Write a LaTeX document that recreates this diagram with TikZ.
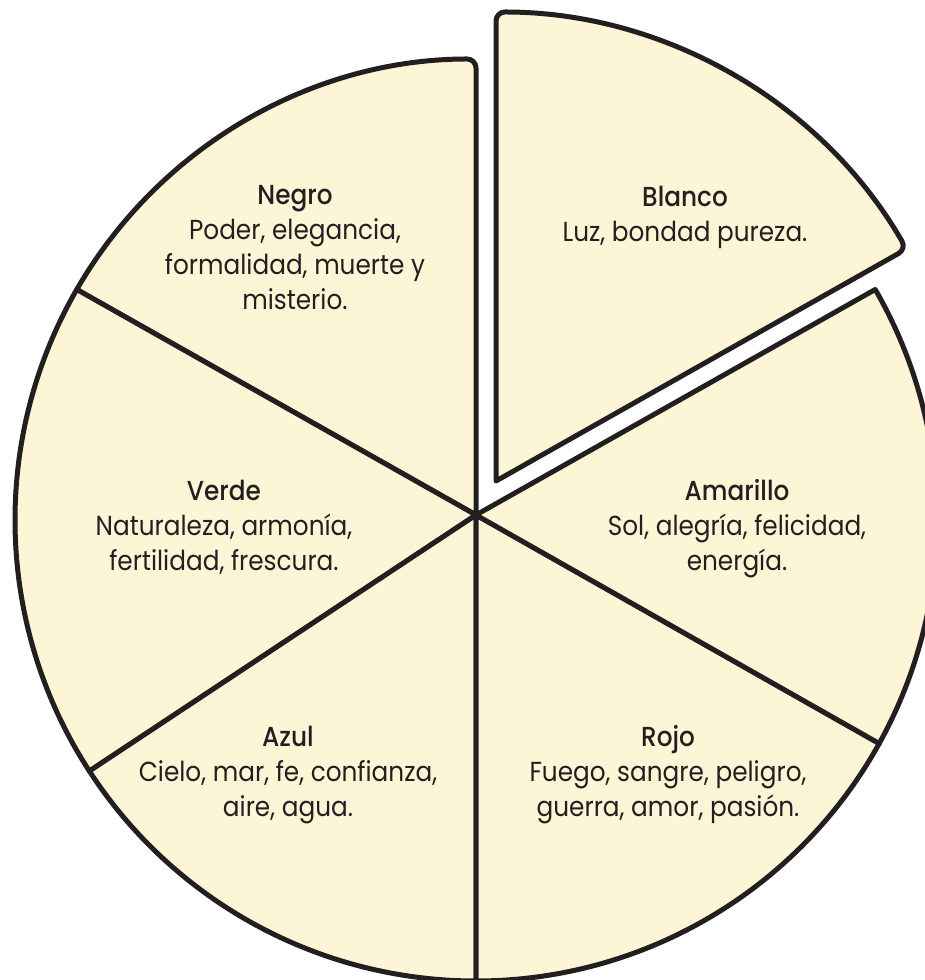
\documentclass[tikz,border=0pt]{standalone}
\usepackage{fontspec}
\setmainfont{Poppins}[BoldFont={Poppins Medium}, FakeStretch=0.9]
\usetikzlibrary{calc}
\definecolor{pieFill}{RGB}{253,246,214}
\definecolor{pieInk}{RGB}{35,31,32}
\begin{document}
\begin{tikzpicture}[x=1pt, y=1pt,
    pieSlice/.style={draw=pieInk, fill=pieFill, line width=5pt, line join=round},
    pieLabel/.style={align=center, text=pieInk, font=\fontsize{27.5}{35}\selectfont, anchor=base, inner sep=0pt}]
    \useasboundingbox (0,0) rectangle (925,980);
    \clip (0,0) rectangle (925,980);
    \def\pieR{461}
    \def\blancoR{474}
    \coordinate (center) at (476, 460);
    \coordinate (apex) at (476, 465);
    \coordinate (bcenter) at (496, 494);
    \coordinate (bapex) at (496, 499);

    % the five slices that stay in place
    \draw[pieSlice] (apex) [rounded corners=9pt] -- ($(center)+(90:\pieR)$) [sharp corners] arc[start angle=90, end angle=150, radius=\pieR] -- cycle;
    \draw[pieSlice] (apex) -- ($(center)+(150:\pieR)$) arc[start angle=150, end angle=213, radius=\pieR] -- cycle;
    \draw[pieSlice] (apex) -- ($(center)+(213:\pieR)$) arc[start angle=213, end angle=270, radius=\pieR] -- cycle;
    \draw[pieSlice] (apex) -- ($(center)+(270:\pieR)$) arc[start angle=270, end angle=331, radius=\pieR] -- cycle;
    \draw[pieSlice] (apex) -- ($(center)+(331:\pieR)$) arc[start angle=331, end angle=390, radius=\pieR] -- cycle;

    % Blanco, pulled out of the pie
    \draw[pieSlice] (bapex) [rounded corners=9pt] -- ($(bcenter)+(30:\blancoR)$) arc[start angle=30, end angle=90, radius=\blancoR] [sharp corners] -- cycle;

    % labels: the base anchor sits on the last line
    \node[pieLabel] (negro) at (295, 670) {\textbf{Negro}\\Poder, elegancia,\\formalidad, muerte y\\misterio.};
    \node[pieLabel] (blanco) at (685, 738) {\textbf{Blanco}\\Luz, bondad pureza.};
    \node[pieLabel] (verde) at (224, 409) {\textbf{Verde}\\Naturaleza, armonía,\\fertilidad, frescura.};
    \node[pieLabel] (amarillo) at (737, 409) {\textbf{Amarillo}\\Sol, alegría, felicidad,\\energía.};
    \node[pieLabel] (azul) at (288, 163) {\textbf{Azul}\\Cielo, mar, fe, confianza,\\aire, agua.};
    \node[pieLabel] (rojo) at (668, 163) {\textbf{Rojo}\\Fuego, sangre, peligro,\\guerra, amor, pasión.};
\end{tikzpicture}
\end{document}
